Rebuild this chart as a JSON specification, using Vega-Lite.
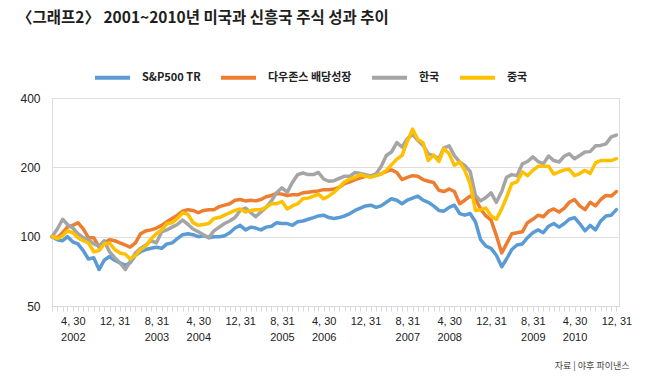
{
  "$schema": "https://vega.github.io/schema/vega-lite/v6.json",
  "width": 567,
  "height": 208,
  "autosize": {"type": "none"},
  "padding": {"left": 52, "top": 98, "right": 31, "bottom": 73},
  "background": "white",
  "title": {
    "text": "〈그래프2〉 2001~2010년 미국과 신흥국 주식 성과 추이",
    "anchor": "start",
    "frame": "group",
    "dx": -35,
    "offset": 32,
    "font": "Noto Sans CJK KR",
    "fontSize": 15.5,
    "fontWeight": 600,
    "color": "#1e1e1e"
  },
  "data": {
    "values": [
      {"date": "2001-12", "S&P500 TR": 100, "다우존스 배당성장": 100, "한국": 100, "중국": 100},
      {"date": "2002-01", "S&P500 TR": 97, "다우존스 배당성장": 99, "한국": 108, "중국": 98},
      {"date": "2002-02", "S&P500 TR": 96, "다우존스 배당성장": 104, "한국": 119, "중국": 101},
      {"date": "2002-03", "S&P500 TR": 100, "다우존스 배당성장": 110, "한국": 113, "중국": 106},
      {"date": "2002-04", "S&P500 TR": 95, "다우존스 배당성장": 112, "한국": 109, "중국": 104},
      {"date": "2002-05", "S&P500 TR": 93, "다우존스 배당성장": 115, "한국": 103, "중국": 99},
      {"date": "2002-06", "S&P500 TR": 87, "다우존스 배당성장": 108, "한국": 99, "중국": 96},
      {"date": "2002-07", "S&P500 TR": 80, "다우존스 배당성장": 99, "한국": 97, "중국": 94},
      {"date": "2002-08", "S&P500 TR": 81, "다우존스 배당성장": 99, "한국": 93, "중국": 86},
      {"date": "2002-09", "S&P500 TR": 72, "다우존스 배당성장": 90, "한국": 91, "중국": 87},
      {"date": "2002-10", "S&P500 TR": 79, "다우존스 배당성장": 94, "한국": 96, "중국": 93},
      {"date": "2002-11", "S&P500 TR": 82, "다우존스 배당성장": 97, "한국": 86, "중국": 94},
      {"date": "2002-12", "S&P500 TR": 79, "다우존스 배당성장": 96, "한국": 81, "중국": 88},
      {"date": "2003-01", "S&P500 TR": 77, "다우존스 배당성장": 94, "한국": 77, "중국": 85},
      {"date": "2003-02", "S&P500 TR": 75, "다우존스 배당성장": 92, "한국": 72, "중국": 84},
      {"date": "2003-03", "S&P500 TR": 77, "다우존스 배당성장": 90, "한국": 78, "중국": 80},
      {"date": "2003-04", "S&P500 TR": 83, "다우존스 배당성장": 94, "한국": 85, "중국": 83},
      {"date": "2003-05", "S&P500 TR": 86, "다우존스 배당성장": 103, "한국": 89, "중국": 88},
      {"date": "2003-06", "S&P500 TR": 88, "다우존스 배당성장": 106, "한국": 92, "중국": 91},
      {"date": "2003-07", "S&P500 TR": 89, "다우존스 배당성장": 107, "한국": 96, "중국": 98},
      {"date": "2003-08", "S&P500 TR": 90, "다우존스 배당성장": 109, "한국": 94, "중국": 103},
      {"date": "2003-09", "S&P500 TR": 89, "다우존스 배당성장": 112, "한국": 105, "중국": 107},
      {"date": "2003-10", "S&P500 TR": 93, "다우존스 배당성장": 116, "한국": 107, "중국": 114},
      {"date": "2003-11", "S&P500 TR": 94, "다우존스 배당성장": 120, "한국": 110, "중국": 115},
      {"date": "2003-12", "S&P500 TR": 98, "다우존스 배당성장": 124, "한국": 113, "중국": 120},
      {"date": "2004-01", "S&P500 TR": 102, "다우존스 배당성장": 129, "한국": 118, "중국": 127},
      {"date": "2004-02", "S&P500 TR": 103, "다우존스 배당성장": 131, "한국": 113, "중국": 125},
      {"date": "2004-03", "S&P500 TR": 102, "다우존스 배당성장": 130, "한국": 108, "중국": 115},
      {"date": "2004-04", "S&P500 TR": 100, "다우존스 배당성장": 127, "한국": 105, "중국": 112},
      {"date": "2004-05", "S&P500 TR": 101, "다우존스 배당성장": 130, "한국": 102, "중국": 113},
      {"date": "2004-06", "S&P500 TR": 99, "다우존스 배당성장": 131, "한국": 99, "중국": 114},
      {"date": "2004-07", "S&P500 TR": 100, "다우존스 배당성장": 131, "한국": 106, "중국": 120},
      {"date": "2004-08", "S&P500 TR": 100, "다우존스 배당성장": 135, "한국": 110, "중국": 121},
      {"date": "2004-09", "S&P500 TR": 101, "다우존스 배당성장": 137, "한국": 114, "중국": 124},
      {"date": "2004-10", "S&P500 TR": 104, "다우존스 배당성장": 139, "한국": 117, "중국": 127},
      {"date": "2004-11", "S&P500 TR": 109, "다우존스 배당성장": 144, "한국": 121, "중국": 130},
      {"date": "2004-12", "S&P500 TR": 112, "다우존스 배당성장": 145, "한국": 130, "중국": 132},
      {"date": "2005-01", "S&P500 TR": 107, "다우존스 배당성장": 143, "한국": 133, "중국": 128},
      {"date": "2005-02", "S&P500 TR": 110, "다우존스 배당성장": 144, "한국": 127, "중국": 130},
      {"date": "2005-03", "S&P500 TR": 109, "다우존스 배당성장": 143, "한국": 122, "중국": 131},
      {"date": "2005-04", "S&P500 TR": 107, "다우존스 배당성장": 145, "한국": 128, "중국": 131},
      {"date": "2005-05", "S&P500 TR": 110, "다우존스 배당성장": 149, "한국": 134, "중국": 134},
      {"date": "2005-06", "S&P500 TR": 111, "다우존스 배당성장": 151, "한국": 143, "중국": 139},
      {"date": "2005-07", "S&P500 TR": 115, "다우존스 배당성장": 154, "한국": 155, "중국": 139},
      {"date": "2005-08", "S&P500 TR": 114, "다우존스 배당성장": 153, "한국": 163, "중국": 142},
      {"date": "2005-09", "S&P500 TR": 114, "다우존스 배당성장": 151, "한국": 156, "중국": 132},
      {"date": "2005-10", "S&P500 TR": 112, "다우존스 배당성장": 152, "한국": 172, "중국": 136},
      {"date": "2005-11", "S&P500 TR": 116, "다우존스 배당성장": 152, "한국": 186, "중국": 139},
      {"date": "2005-12", "S&P500 TR": 117, "다우존스 배당성장": 155, "한국": 189, "중국": 146},
      {"date": "2006-01", "S&P500 TR": 119, "다우존스 배당성장": 156, "한국": 186, "중국": 147},
      {"date": "2006-02", "S&P500 TR": 121, "다우존스 배당성장": 157, "한국": 186, "중국": 150},
      {"date": "2006-03", "S&P500 TR": 123, "다우존스 배당성장": 158, "한국": 190, "중국": 153},
      {"date": "2006-04", "S&P500 TR": 124, "다우존스 배당성장": 160, "한국": 178, "중국": 146},
      {"date": "2006-05", "S&P500 TR": 121, "다우존스 배당성장": 160, "한국": 174, "중국": 150},
      {"date": "2006-06", "S&P500 TR": 120, "다우존스 배당성장": 161, "한국": 175, "중국": 156},
      {"date": "2006-07", "S&P500 TR": 121, "다우존스 배당성장": 164, "한국": 179, "중국": 164},
      {"date": "2006-08", "S&P500 TR": 123, "다우존스 배당성장": 170, "한국": 183, "중국": 173},
      {"date": "2006-09", "S&P500 TR": 126, "다우존스 배당성장": 173, "한국": 183, "중국": 178},
      {"date": "2006-10", "S&P500 TR": 130, "다우존스 배당성장": 177, "한국": 190, "중국": 181},
      {"date": "2006-11", "S&P500 TR": 133, "다우존스 배당성장": 180, "한국": 188, "중국": 186},
      {"date": "2006-12", "S&P500 TR": 136, "다우존스 배당성장": 183, "한국": 186, "중국": 183},
      {"date": "2007-01", "S&P500 TR": 137, "다우존스 배당성장": 184, "한국": 183, "중국": 181},
      {"date": "2007-02", "S&P500 TR": 134, "다우존스 배당성장": 185, "한국": 188, "중국": 184},
      {"date": "2007-03", "S&P500 TR": 136, "다우존스 배당성장": 187, "한국": 201, "중국": 187},
      {"date": "2007-04", "S&P500 TR": 141, "다우존스 배당성장": 192, "한국": 225, "중국": 194},
      {"date": "2007-05", "S&P500 TR": 146, "다우존스 배당성장": 195, "한국": 233, "중국": 205},
      {"date": "2007-06", "S&P500 TR": 144, "다우존스 배당성장": 190, "한국": 256, "중국": 217},
      {"date": "2007-07", "S&P500 TR": 139, "다우존스 배당성장": 177, "한국": 245, "중국": 225},
      {"date": "2007-08", "S&P500 TR": 144, "다우존스 배당성장": 181, "한국": 266, "중국": 259},
      {"date": "2007-09", "S&P500 TR": 147, "다우존스 배당성장": 184, "한국": 278, "중국": 293},
      {"date": "2007-10", "S&P500 TR": 150, "다우존스 배당성장": 183, "한국": 262, "중국": 264},
      {"date": "2007-11", "S&P500 TR": 144, "다우존스 배당성장": 177, "한국": 249, "중국": 256},
      {"date": "2007-12", "S&P500 TR": 141, "다우존스 배당성장": 174, "한국": 229, "중국": 214},
      {"date": "2008-01", "S&P500 TR": 136, "다우존스 배당성장": 172, "한국": 225, "중국": 226},
      {"date": "2008-02", "S&P500 TR": 130, "다우존스 배당성장": 159, "한국": 218, "중국": 212},
      {"date": "2008-03", "S&P500 TR": 129, "다우존스 배당성장": 157, "한국": 243, "중국": 241},
      {"date": "2008-04", "S&P500 TR": 134, "다우존스 배당성장": 161, "한국": 248, "중국": 229},
      {"date": "2008-05", "S&P500 TR": 137, "다우존스 배당성장": 157, "한국": 225, "중국": 204},
      {"date": "2008-06", "S&P500 TR": 126, "다우존스 배당성장": 139, "한국": 211, "중국": 211},
      {"date": "2008-07", "S&P500 TR": 124, "다우존스 배당성장": 144, "한국": 204, "중국": 194},
      {"date": "2008-08", "S&P500 TR": 126, "다우존스 배당성장": 150, "한국": 192, "중국": 170},
      {"date": "2008-09", "S&P500 TR": 116, "다우존스 배당성장": 146, "한국": 151, "중국": 130},
      {"date": "2008-10", "S&P500 TR": 97, "다우존스 배당성장": 132, "한국": 143, "중국": 131},
      {"date": "2008-11", "S&P500 TR": 91, "다우존스 배당성장": 123, "한국": 148, "중국": 133},
      {"date": "2008-12", "S&P500 TR": 89, "다우존스 배당성장": 118, "한국": 155, "중국": 123},
      {"date": "2009-01", "S&P500 TR": 83, "다우존스 배당성장": 101, "한국": 141, "중국": 119},
      {"date": "2009-02", "S&P500 TR": 74, "다우존스 배당성장": 85, "한국": 157, "중국": 132},
      {"date": "2009-03", "S&P500 TR": 80, "다우존스 배당성장": 93, "한국": 181, "중국": 148},
      {"date": "2009-04", "S&P500 TR": 88, "다우존스 배당성장": 103, "한국": 186, "중국": 170},
      {"date": "2009-05", "S&P500 TR": 92, "다우존스 배당성장": 104, "한국": 184, "중국": 173},
      {"date": "2009-06", "S&P500 TR": 93, "다우존스 배당성장": 105, "한국": 207, "중국": 191},
      {"date": "2009-07", "S&P500 TR": 99, "다우존스 배당성장": 115, "한국": 212, "중국": 184},
      {"date": "2009-08", "S&P500 TR": 104, "다우존스 배당성장": 119, "한국": 222, "중국": 194},
      {"date": "2009-09", "S&P500 TR": 107, "다우존스 배당성장": 124, "한국": 212, "중국": 202},
      {"date": "2009-10", "S&P500 TR": 104, "다우존스 배당성장": 122, "한국": 207, "중국": 202},
      {"date": "2009-11", "S&P500 TR": 111, "다우존스 배당성장": 129, "한국": 224, "중국": 202},
      {"date": "2009-12", "S&P500 TR": 114, "다우존스 배당성장": 132, "한국": 214, "중국": 187},
      {"date": "2010-01", "S&P500 TR": 110, "다우존스 배당성장": 128, "한국": 211, "중국": 191},
      {"date": "2010-02", "S&P500 TR": 114, "다우존스 배당성장": 133, "한국": 224, "중국": 195},
      {"date": "2010-03", "S&P500 TR": 119, "다우존스 배당성장": 141, "한국": 229, "중국": 196},
      {"date": "2010-04", "S&P500 TR": 121, "다우존스 배당성장": 145, "한국": 218, "중국": 184},
      {"date": "2010-05", "S&P500 TR": 114, "다우존스 배당성장": 136, "한국": 225, "중국": 188},
      {"date": "2010-06", "S&P500 TR": 106, "다우존스 배당성장": 131, "한국": 233, "중국": 194},
      {"date": "2010-07", "S&P500 TR": 112, "다우존스 배당성장": 141, "한국": 234, "중국": 188},
      {"date": "2010-08", "S&P500 TR": 107, "다우존스 배당성장": 136, "한국": 248, "중국": 209},
      {"date": "2010-09", "S&P500 TR": 117, "다우존스 배당성장": 145, "한국": 249, "중국": 214},
      {"date": "2010-10", "S&P500 TR": 123, "다우존스 배당성장": 151, "한국": 253, "중국": 214},
      {"date": "2010-11", "S&P500 TR": 124, "다우존스 배당성장": 150, "한국": 271, "중국": 214},
      {"date": "2010-12", "S&P500 TR": 131, "다우존스 배당성장": 157, "한국": 276, "중국": 218}
    ]
  },
  "transform": [
    {"fold": ["S&P500 TR", "다우존스 배당성장", "한국", "중국"], "as": ["series", "value"]}
  ],
  "mark": {"type": "line", "strokeWidth": 3.5, "strokeJoin": "round", "strokeCap": "round"},
  "encoding": {
    "x": {
      "field": "date",
      "type": "temporal",
      "scale": {
        "type": "utc",
        "domain": [
          {"year": 2001, "month": 12, "date": 1, "utc": true},
          {"year": 2010, "month": 12, "date": 16, "utc": true}
        ]
      },
      "axis": {
        "tickCount": {"interval": "month", "step": 1},
        "grid": false,
        "domainColor": "#d9d9d9",
        "domainWidth": 1,
        "tickColor": "#d9d9d9",
        "tickSize": 5,
        "labelOverlap": false,
        "labelBound": false,
        "labelFlush": false,
        "labelPadding": 4,
        "labelFont": "'Liberation Sans Narrow', 'Liberation Sans', sans-serif",
        "labelFontSize": 11,
        "labelColor": "#222222",
        "labelLineHeight": 16,
        "labelBaseline": "top",
        "labelExpr": "((utcyear(datum.value) - 2001) * 12 + utcmonth(datum.value) - 11) % 8 == 4 ? [(utcmonth(datum.value) + 1) + ', ' + (utcmonth(datum.value) == 3 ? '30' : '31'), utcmonth(datum.value) == 11 ? '' : '' + utcyear(datum.value)] : ''",
        "title": "자료 | 야후 파이낸스",
        "titleFont": "Noto Sans CJK KR",
        "titleFontSize": 9,
        "titleFontWeight": "normal",
        "titleColor": "#444444",
        "titleAlign": "right",
        "titleBaseline": "middle",
        "titleX": 577,
        "titleY": 59
      }
    },
    "y": {
      "field": "value",
      "type": "quantitative",
      "scale": {"type": "log", "domain": [50, 400]},
      "axis": {
        "values": [50, 100, 200, 400],
        "title": null,
        "domain": false,
        "ticks": false,
        "gridColor": "#dedede",
        "gridWidth": 1,
        "labelPadding": 12,
        "labelFont": "'Liberation Sans Narrow', 'Liberation Sans', sans-serif",
        "labelFontSize": 12,
        "labelColor": "#222222"
      }
    },
    "color": {
      "field": "series",
      "type": "nominal",
      "scale": {
        "domain": ["S&P500 TR", "다우존스 배당성장", "한국", "중국"],
        "range": ["#5B9BD5", "#ED7D31", "#A5A5A5", "#FFC000"]
      },
      "legend": {
        "orient": "none",
        "legendX": 41,
        "legendY": -40,
        "direction": "horizontal",
        "title": null,
        "symbolType": "stroke",
        "symbolSize": 1225,
        "symbolStrokeWidth": 4,
        "labelFont": "Noto Sans CJK KR",
        "labelFontSize": 11,
        "labelFontWeight": "bold",
        "labelColor": "#222222",
        "labelOffset": 10,
        "columnPadding": 12,
        "padding": 0
      }
    }
  }
}
